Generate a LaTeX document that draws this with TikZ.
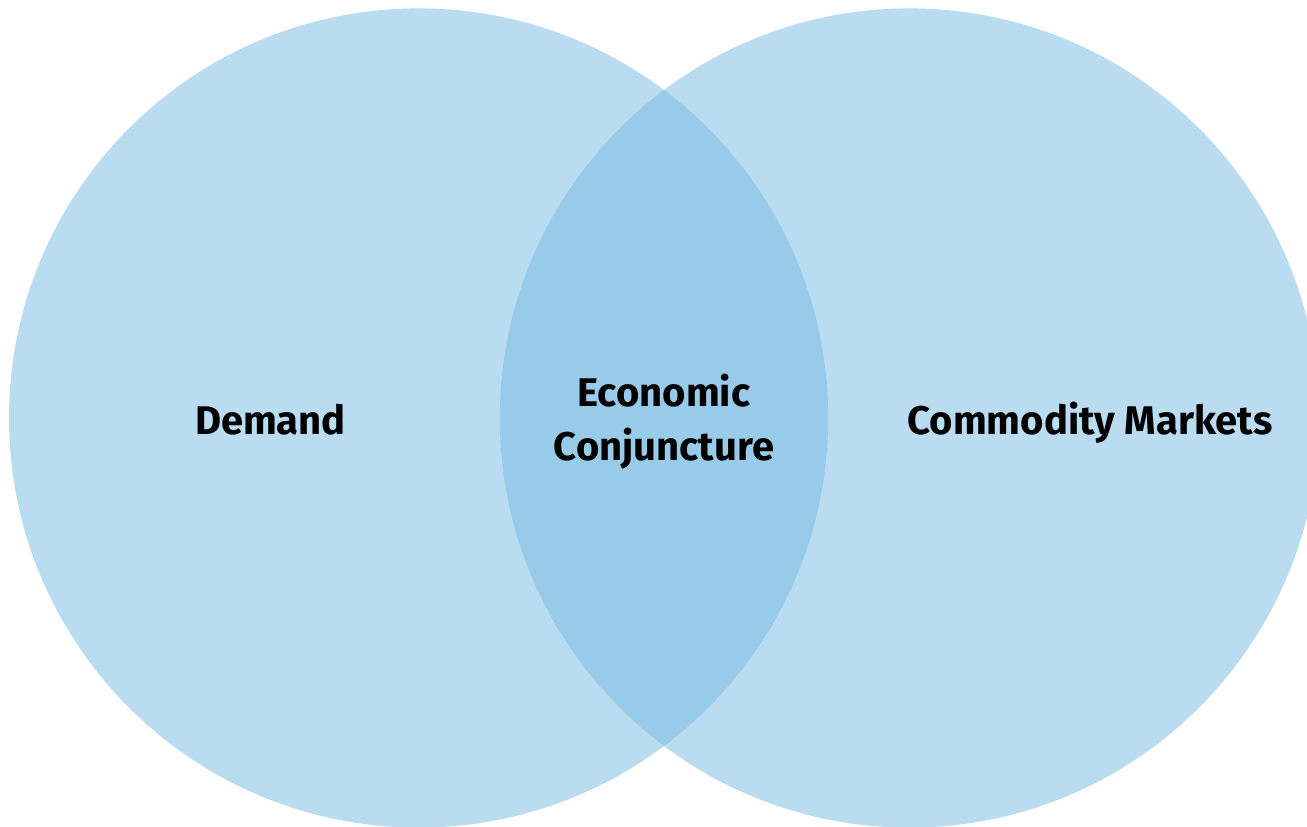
\documentclass[tikz,border=0pt]{standalone}
\usepackage{fontspec}
\setmainfont{Fira Sans}[UprightFont={* Bold}]
\definecolor{vlight}{HTML}{BADCF1}
\definecolor{vdark}{HTML}{98CAEA}
\begin{document}
\begin{tikzpicture}[x=1pt,y=1pt,
  lbl/.style={anchor=base,font=\fontsize{40}{48}\selectfont,text=black,inner sep=0pt}]
\useasboundingbox (0,0) rectangle (1307,827);
\fill[white] (0,0) rectangle (1307,827);
\begin{scope}
\clip (0,0) rectangle (1307,827);
\fill[vlight] (418.6,409) circle[radius=409.6];
\fill[vlight] (909.4,409) circle[radius=409.6];
\begin{scope}
\clip (418.6,409) circle[radius=409.6];
\fill[vdark] (909.4,409) circle[radius=409.6];
\end{scope}
\end{scope}
\node[lbl] (demand) at (270.5,392) {Demand};
\node[lbl] (econ1) at (664,420) {Economic};
\node[lbl] (econ2) at (664,366) {Conjuncture};
\node[lbl] (comm) at (1090,392) {Commodity Markets};
\end{tikzpicture}
\end{document}
